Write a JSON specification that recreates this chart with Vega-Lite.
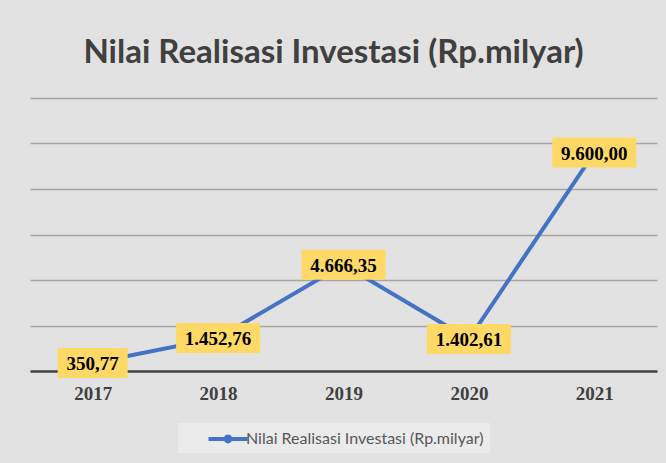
{
  "$schema": "https://vega.github.io/schema/vega-lite/v6.json",
  "width": 627,
  "height": 273,
  "autosize": {"type": "none"},
  "padding": {"left": 30, "top": 98, "right": 9, "bottom": 92},
  "background": "#e2e2e2",
  "config": {
    "locale": {"number": {"decimal": ",", "thousands": ".", "grouping": [3], "currency": ["Rp", ""]}},
    "view": {"stroke": null}
  },
  "title": {
    "text": "Nilai Realisasi Investasi (Rp.milyar)",
    "font": "Lato",
    "fontSize": 33,
    "fontWeight": "bold",
    "color": "#404040",
    "anchor": "middle",
    "frame": "group",
    "offset": 28,
    "dx": -10
  },
  "data": {
    "values": [
      {"year": "2017", "value": 350.77, "series": "Nilai Realisasi Investasi (Rp.milyar)"},
      {"year": "2018", "value": 1452.76, "series": "Nilai Realisasi Investasi (Rp.milyar)"},
      {"year": "2019", "value": 4666.35, "series": "Nilai Realisasi Investasi (Rp.milyar)"},
      {"year": "2020", "value": 1402.61, "series": "Nilai Realisasi Investasi (Rp.milyar)"},
      {"year": "2021", "value": 9600.0, "series": "Nilai Realisasi Investasi (Rp.milyar)"}
    ]
  },
  "encoding": {
    "x": {
      "field": "year", "type": "ordinal",
      "scale": {"type": "point", "padding": 0.5},
      "axis": {
        "title": null, "labelAngle": 0, "ticks": false,
        "domainColor": "#404040", "domainWidth": 2.5,
        "labelFont": "Liberation Serif", "labelFontSize": 19, "labelFontWeight": "bold",
        "labelColor": "#404040", "labelPadding": 13
      }
    },
    "y": {
      "field": "value", "type": "quantitative",
      "scale": {"domain": [0, 12000], "nice": false},
      "axis": {
        "title": null, "labels": false, "ticks": false, "domain": false,
        "values": [2000, 4000, 6000, 8000, 10000, 12000],
        "gridColor": "#a6a6a6", "gridWidth": 1.5
      }
    }
  },
  "layer": [
    {
      "mark": {"type": "line", "strokeWidth": 4},
      "encoding": {
        "color": {
          "field": "series", "type": "nominal",
          "scale": {"range": ["#4472C4"]},
          "legend": {
            "title": null, "orient": "none", "legendX": 148, "legendY": 325,
            "fillColor": "#ebebeb", "padding": 6,
            "symbolType": "M-2,-0.2 L2,-0.2 L2,0.2 L-2,0.2 Z M-0.45,0 A0.45,0.45 0 1,1 0.45,0 A0.45,0.45 0 1,1 -0.45,0 Z",
            "symbolSize": 380, "symbolStrokeWidth": 0, "symbolFillColor": "#4472C4",
            "labelFont": "Lato", "labelFontSize": 16, "labelColor": "#595959",
            "labelLimit": 400, "symbolOffset": 34, "labelOffset": 8
          }
        }
      }
    },
    {
      "mark": {"type": "point", "filled": true, "size": 160, "color": "#4472C4", "opacity": 1}
    },
    {
      "mark": {"type": "point", "filled": true, "color": "#FFD966", "opacity": 1, "size": 7056, "strokeWidth": 0},
      "encoding": {
        "shape": {
          "condition": {"test": "datum.year == '2017'", "value": "M-0.833,-0.357 L0.833,-0.357 L0.833,0.357 L-0.833,0.357 Z"},
          "value": "M-1,-0.357 L1,-0.357 L1,0.357 L-1,0.357 Z"
        }
      }
    },
    {
      "mark": {"type": "text", "font": "Liberation Serif", "fontSize": 19, "fontWeight": "bold", "color": "#000000", "baseline": "middle", "align": "center", "dy": 1},
      "encoding": {
        "text": {"field": "value", "type": "quantitative", "format": ",.2f"}
      }
    }
  ]
}
